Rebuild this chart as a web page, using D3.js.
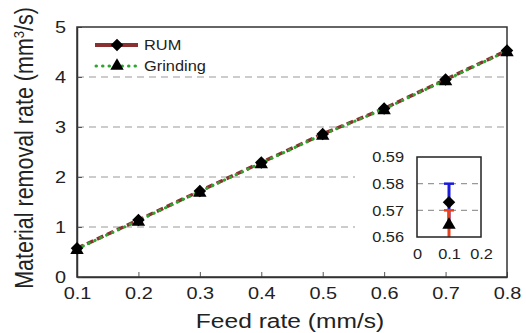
<!DOCTYPE html>
<html>
<head>
<meta charset="utf-8">
<script src="https://cdn.jsdelivr.net/npm/d3@7"></script>
<style>
  body { margin: 0; background: #fff; }
  text { font-family: "Liberation Sans", Arial, sans-serif; fill: #222; }
</style>
</head>
<body>
<div id="chart"></div>
<script>
// feed rate (mm/s) vs material removal rate (mm^3/s)
const feedRates = [0.1, 0.2, 0.3, 0.4, 0.5, 0.6, 0.7, 0.8];
const rumValues = [0.573, 1.14, 1.72, 2.29, 2.86, 3.37, 3.95, 4.53];
const grindValues = [0.565, 1.13, 1.71, 2.28, 2.85, 3.36, 3.94, 4.52];
const xTicks = [0.1, 0.2, 0.3, 0.4, 0.5, 0.6, 0.7, 0.8];
const yTicks = [0, 1, 2, 3, 4, 5];
// inset: zoom on first point with error bars
const insetX = 0.1;
const insetRum = {value: 0.573, lo: 0.566, hi: 0.58};
const insetGrind = {value: 0.5645, lo: 0.555, hi: 0.57};
const insetXTicks = [0, 0.1, 0.2];
const insetYTicks = [0.56, 0.57, 0.58, 0.59];

const W = 526, H = 333;
const margin = {top: 27, right: 19, bottom: 56, left: 77};
const width = W - margin.left - margin.right,
      height = H - margin.top - margin.bottom;
const SX = 1.17; // the source figure is a bit wider than tall

// make horizontal text a little wider, keeping its anchor point
function stretch(sel) {
  sel.each(function() {
    const t = d3.select(this);
    const tx = +t.attr("x") || 0, ty = +t.attr("y") || 0;
    t.attr("x", 0).attr("y", 0)
     .attr("transform", `translate(${tx},${ty}) scale(${SX},1)`);
  });
}

const svg = d3.select("#chart").append("svg")
    .attr("width", W).attr("height", H);
const g = svg.append("g")
    .attr("transform", `translate(${margin.left},${margin.top})`);

const x = d3.scaleLinear().domain([0.1, 0.8]).range([0, width]);
const y = d3.scaleLinear().domain([0, 5]).range([height, 0]);

// dashed gridlines
g.selectAll(".grid").data([1, 2, 3, 4]).enter().append("line")
    .attr("x1", 0).attr("x2", width)
    .attr("y1", d => y(d)).attr("y2", d => y(d))
    .attr("stroke", "#999").attr("stroke-width", 1.2)
    .attr("stroke-dasharray", "7,5");

// white area behind inset
const inset = {left: 417 - margin.left, top: 157 - margin.top, w: 64, h: 80};
g.append("rect")
    .attr("x", inset.left - 62).attr("y", inset.top - 10)
    .attr("width", width - inset.left + 60).attr("height", inset.h + 42)
    .attr("fill", "#fff");

// axes
const xAxis = g.append("g").attr("transform", `translate(0,${height})`)
    .call(d3.axisBottom(x).tickValues(xTicks).tickFormat(d3.format(".1f"))
        .tickSizeInner(-5).tickSizeOuter(0).tickPadding(10));
const yAxis = g.append("g")
    .call(d3.axisLeft(y).tickValues(yTicks).tickFormat(d3.format("d"))
        .tickSizeInner(-5).tickSizeOuter(0).tickPadding(11));
[xAxis, yAxis].forEach(a => {
  a.selectAll("text").style("font-size", "17px").attr("fill", "#222");
  a.selectAll("line").attr("stroke", "#555");
  a.select(".domain").attr("stroke", "#333").attr("stroke-width", 1.5);
});
yAxis.selectAll("text").attr("dy", "0.35em");
stretch(xAxis.selectAll("text"));
stretch(yAxis.selectAll("text"));

// frame top / right
g.append("rect").attr("width", width).attr("height", height)
    .attr("fill", "none").attr("stroke", "#333").attr("stroke-width", 1.5);

// lines
const line = vals => d3.line().x((d, i) => x(feedRates[i])).y(d => y(d))(vals);
g.append("path").attr("d", line(rumValues))
    .attr("fill", "none").attr("stroke", "#8a3030").attr("stroke-width", 3.5)
    .attr("stroke-dasharray", "7,4");
g.append("path").attr("d", line(grindValues))
    .attr("fill", "none").attr("stroke", "#2ea52e").attr("stroke-width", 3)
    .attr("stroke-linecap", "round").attr("stroke-dasharray", "0.5,6");

const diamond = d3.symbol().type(d3.symbolDiamond2).size(100);
const triangle = d3.symbol().type(d3.symbolTriangle).size(78);
g.selectAll(".rum").data(rumValues).enter().append("path")
    .attr("d", diamond)
    .attr("transform", (d, i) => `translate(${x(feedRates[i])},${y(d)})`)
    .attr("fill", "#000");
g.selectAll(".grind").data(grindValues).enter().append("path")
    .attr("d", triangle)
    .attr("transform", (d, i) => `translate(${x(feedRates[i])},${y(d) + 1.5})`)
    .attr("fill", "#000");

// legend
const leg = g.append("g").attr("transform", "translate(18,18)");
leg.append("line").attr("x1", 0).attr("x2", 43)
    .attr("stroke", "#8a3030").attr("stroke-width", 4);
leg.append("path").attr("d", diamond).attr("transform", "translate(22,0)");
leg.append("text").attr("x", 49).attr("dy", "0.35em").style("font-size", "14px").text("RUM");
leg.append("line").attr("x1", 1).attr("x2", 43).attr("y1", 21).attr("y2", 21)
    .attr("stroke", "#2ea52e").attr("stroke-width", 3)
    .attr("stroke-linecap", "round").attr("stroke-dasharray", "0.5,6");
leg.append("path").attr("d", triangle).attr("transform", "translate(22,21)");
leg.append("text").attr("x", 49).attr("y", 21).attr("dy", "0.35em").style("font-size", "14px").text("Grinding");
stretch(leg.selectAll("text"));

// inset
const ig = g.append("g").attr("transform", `translate(${inset.left},${inset.top})`);
const ix = d3.scaleLinear().domain([0, 0.2]).range([0, inset.w]);
const iy = d3.scaleLinear().domain([0.56, 0.59]).range([inset.h, 0]);
ig.append("clipPath").attr("id", "iclip").append("rect")
    .attr("width", inset.w).attr("height", inset.h);
ig.selectAll(".igrid").data([0.57, 0.58]).enter().append("line")
    .attr("x1", 0).attr("x2", inset.w)
    .attr("y1", d => iy(d)).attr("y2", d => iy(d))
    .attr("stroke", "#999").attr("stroke-width", 1.2).attr("stroke-dasharray", "6,5");
const ixAxis = ig.append("g").attr("transform", `translate(0,${inset.h})`)
    .call(d3.axisBottom(ix).tickValues(insetXTicks).tickFormat(d => d === 0 ? "0" : d3.format(".1f")(d))
        .tickSize(0).tickPadding(12));
const iyAxis = ig.append("g")
    .call(d3.axisLeft(iy).tickValues(insetYTicks).tickFormat(d3.format(".2f"))
        .tickSize(0).tickPadding(13));
[ixAxis, iyAxis].forEach(a => {
  a.selectAll("text").style("font-size", "14px").attr("fill", "#222");
  a.select(".domain").remove();
});
iyAxis.selectAll("text").attr("dy", "0.35em");
stretch(ixAxis.selectAll("text"));
stretch(iyAxis.selectAll("text"));
const bars = ig.append("g").attr("clip-path", "url(#iclip)");
[[insetRum, "#1a1adc"], [insetGrind, "#e8401a"]].forEach(([e, c]) => {
  bars.append("line").attr("x1", ix(insetX)).attr("x2", ix(insetX))
      .attr("y1", iy(e.lo)).attr("y2", iy(e.hi))
      .attr("stroke", c).attr("stroke-width", 3);
  bars.append("line").attr("x1", ix(insetX) - 5).attr("x2", ix(insetX) + 5)
      .attr("y1", iy(e.hi)).attr("y2", iy(e.hi))
      .attr("stroke", c).attr("stroke-width", 2.5);
});
bars.append("path").attr("d", diamond)
    .attr("transform", `translate(${ix(insetX)},${iy(insetRum.value)})`);
bars.append("path").attr("d", triangle)
    .attr("transform", `translate(${ix(insetX)},${iy(insetGrind.value)})`);
ig.append("rect").attr("width", inset.w).attr("height", inset.h)
    .attr("fill", "none").attr("stroke", "#222").attr("stroke-width", 1.5);

// axis titles
const xTitle = g.append("text").attr("x", width / 2 - 2).attr("y", height + 51)
    .attr("text-anchor", "middle").style("font-size", "21px").text("Feed rate (mm/s)");
stretch(xTitle);
g.append("text")
    .attr("transform", `translate(${-margin.left + 33},${height / 2 - 4}) rotate(-90) scale(1,${SX})`)
    .attr("text-anchor", "middle").style("font-size", "21.5px")
    .html('Material removal rate (mm<tspan dy="-8" font-size="13px">3</tspan><tspan dy="8">/s)</tspan>');
</script>
</body>
</html>
